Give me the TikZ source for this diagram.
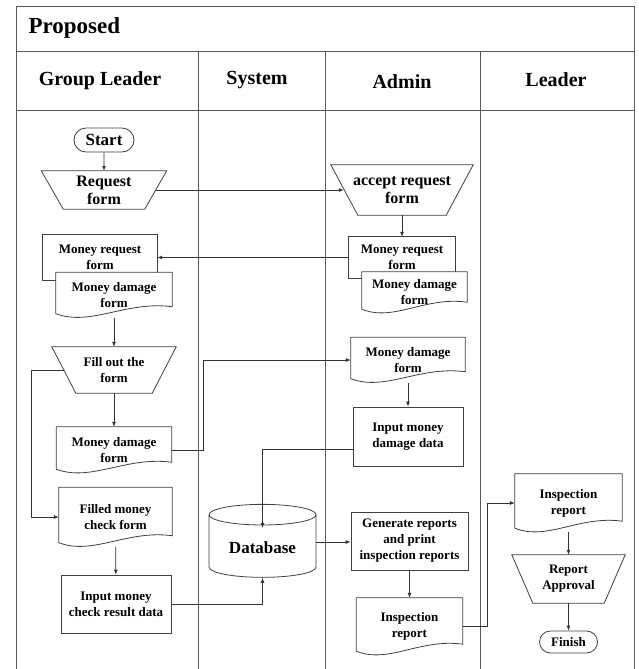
\documentclass[tikz,border=0pt]{standalone}
\usepackage{fontspec}
\setmainfont{Liberation Serif}
\usetikzlibrary{shapes.geometric,shapes.misc,arrows.meta,calc,backgrounds}
\tikzset{
  lane/.style={draw=black!65, line width=0.8pt},
  txt/.style={font=\bfseries\fontsize{13}{16}\selectfont, align=center, inner sep=1pt},
  bigtxt/.style={txt, font=\bfseries\fontsize{16}{18}\selectfont},
  head/.style={font=\bfseries\fontsize{20}{22}\selectfont},
  term/.style={txt, draw=black!75, line width=0.8pt, rounded rectangle, fill=white},
  procbox/.style={txt, draw=black!75, line width=0.8pt, rectangle, fill=white},
  docbox/.style={txt, rectangle},
  manop/.style={txt, rectangle},
  outline/.style={draw=black!75, line width=0.8pt, fill=white},
  flow/.style={draw=black!80, line width=0.8pt, -{Latex[length=5pt,width=4pt]}}
}
\begin{document}
\begin{tikzpicture}[x=1pt,y=-1pt]
\useasboundingbox (0,0) rectangle (638,669);
% headings
\node[anchor=west, font=\bfseries\fontsize{23}{26}\selectfont] (title) at (25,28) {Proposed};
\node[head] (hgroup) at (100,81) {Group Leader};
\node[head] (hsystem) at (257,80) {System};
\node[head] (hadmin) at (402,82) {Admin};
\node[head] (hleader) at (556,80) {Leader};

% group leader
\node[term, font=\bfseries\fontsize{17}{19}\selectfont, minimum width=62pt, minimum height=24pt] (start) at (104,140) {Start};
\node[manop, bigtxt, minimum width=125pt, minimum height=38pt] (reqform) at (104,190) {Request\\form};
\node[docbox, minimum width=114pt, minimum height=45pt] (mrfG) at (100,257.5) {Money request\\form};
\node[docbox, minimum width=116pt, minimum height=45pt] (mdfG) at (114,295) {Money damage\\form};
\node[manop, minimum width=124pt, minimum height=46pt] (fill) at (114,370) {Fill out the\\form};
\node[docbox, minimum width=115pt, minimum height=46pt] (mdf2) at (114,450) {Money damage\\form};
\node[docbox, minimum width=113pt, minimum height=59pt] (filled) at (115.5,517) {Filled money\\check form};
\node[procbox, minimum width=110pt, minimum height=58pt] (inputchk) at (116,604) {Input money\\check result data};

% system
\node[cylinder, shape border rotate=90, aspect=0.28, draw=black!75, line width=0.8pt,
  font=\bfseries\fontsize{17}{19}\selectfont, minimum width=107pt, minimum height=73pt] (db) at (262.5,548) {Database};

% admin
\node[manop, bigtxt, minimum width=142pt, minimum height=50pt] (accform) at (402,190) {accept request\\form};
\node[docbox, minimum width=106pt, minimum height=41pt] (mrfA) at (402,257.5) {Money request\\form};
\node[docbox, minimum width=105pt, minimum height=41pt] (mdfA) at (414.5,292.5) {Money damage\\form};
\node[docbox, minimum width=114pt, minimum height=45pt] (mdfA2) at (408,360) {Money damage\\form};
\node[procbox, minimum width=110pt, minimum height=59pt] (inputdmg) at (408,436.5) {Input money\\damage data};
\node[procbox, minimum width=117pt, minimum height=58pt] (gen) at (409.5,541) {Generate reports\\and print\\inspection reports};
\node[docbox, minimum width=106pt, minimum height=57pt] (insA) at (409.5,626.5) {Inspection\\report};

% leader
\node[docbox, minimum width=107pt, minimum height=58pt] (insL) at (568.5,503) {Inspection\\report};
\node[manop, minimum width=113pt, minimum height=48pt] (approve) at (568.5,579) {Report\\Approval};
\node[term, minimum width=60pt, minimum height=22pt] (finish) at (568.5,642) {Finish};

% connectors
\draw[flow] (start) -- (reqform);
\draw[flow] ([xshift=-11pt]reqform.east) -- ([xshift=13pt]accform.west);
\draw[flow] (accform) -- (mrfA);
\draw[flow] (mrfA.west) -- (mrfG.east);
\draw[flow] (mdfG.south) -- (fill.north);
\draw[flow] ([xshift=12pt]fill.west) -- ++(-32,0) |- (filled.west);
\draw[flow] (fill) -- (mdf2);
\draw[flow] (mdf2.east) -- ++(32,0) |- (mdfA2.west);
\draw[flow] (mdfA2) -- (inputdmg);
\draw[flow] ([yshift=-13pt]inputdmg.west) -| ([yshift=-24pt]db.north);
\draw[flow] (filled) -- (inputchk);
\draw[flow] (inputchk.east) -| (db.south);
\draw[flow] ([yshift=6pt]db.east) -- ([yshift=6pt]db.east -| gen.west);
\draw[flow] (gen) -- (insA);
\draw[flow] (insA.east) -- ++(25,0) |- (insL.west);
\draw[flow] (insL) -- (approve);
\draw[flow] (approve) -- (finish);

% lanes and outlines
\begin{scope}[on background layer]
  \draw[lane] (16,669) -- (16,6) -- (634,6) -- (634,669);
  \draw[lane] (16,51) -- (634,51);
  \draw[lane] (16,110) -- (634,110);
  \foreach \x in {198,325,480}
    \draw[lane] (\x,51) -- (\x,669);
  \foreach \n/\d in {reqform/22,accform/27,fill/24,approve/21}
    \draw[outline] (\n.north west) -- (\n.north east) -- ([xshift=-\d pt]\n.south east) -- ([xshift=\d pt]\n.south west) -- cycle;
  \foreach \n in {mrfG,mrfA}
    \draw[outline] (\n.north west) rectangle (\n.south east);
  \foreach \n in {mdfG,mdfA,mdf2,mdfA2,filled,insA,insL}
    \draw[outline] (\n.north west) -- (\n.north east) -- ($(\n.south east)+(0,-11)$)
      .. controls ($(\n.south east)!0.4!(\n.south west)+(0,-17)$) and ($(\n.south east)!0.7!(\n.south west)+(0,9)$)
      .. ($(\n.south west)+(0,-4)$) -- cycle;
\end{scope}
\end{tikzpicture}
\end{document}
